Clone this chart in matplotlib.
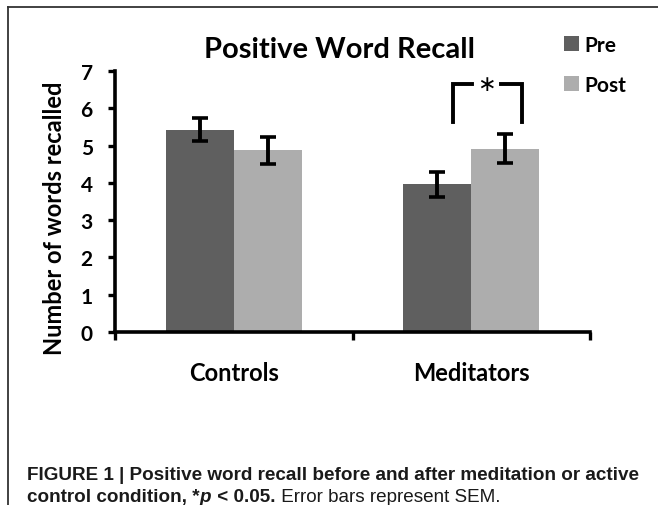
import matplotlib
matplotlib.use("Agg")
import matplotlib.pyplot as plt
from matplotlib.patches import Patch
from matplotlib.lines import Line2D
from matplotlib import font_manager
from matplotlib.font_manager import FontProperties
import numpy as np

groups = ["Controls", "Meditators"]
pre_mean = [5.42, 3.96]
post_mean = [4.87, 4.91]
pre_sem = [0.31, 0.34]
post_sem = [0.37, 0.39]
series_names = ["Pre", "Post"]
yticks = [0, 1, 2, 3, 4, 5, 6, 7]


def bold_weight(fam):
    # weight of the face matplotlib would pick for family + bold
    try:
        path = font_manager.findfont(FontProperties(family=fam, weight="bold"), fallback_to_default=False)
    except Exception:
        return 0
    for f in font_manager.fontManager.ttflist:
        if f.fname == path and f.name == fam:
            wt = f.weight
            if isinstance(wt, str):
                wt = font_manager.weight_dict.get(wt, 400)
            return wt
    return 0


main_font = "DejaVu Sans"
for cand in ["Lato", "Open Sans", "Roboto", "Noto Sans", "Liberation Sans"]:
    if bold_weight(cand) >= 700:
        main_font = cand
        break
cap_font = "Liberation Sans"

dark = "#5f5f5f"
light = "#adadad"

fig = plt.figure(figsize=(6.58, 5.06), dpi=100)
ax = fig.add_axes([115 / 658, 1 - 333 / 506, 475 / 658, 261 / 506])

x = np.arange(len(groups))
w = 0.286
err_kw = dict(ecolor="black", elinewidth=2.8, capsize=5.5, capthick=2.6)
ax.bar(x - w / 2, pre_mean, w, color=dark, yerr=pre_sem, error_kw=err_kw, zorder=2)
ax.bar(x + w / 2, post_mean, w, color=light, yerr=post_sem, error_kw=err_kw, zorder=2)

ax.set_xlim(-0.5, 1.5)
ax.set_ylim(0, 7)
ax.set_yticks(yticks)
ax.set_yticklabels([str(t) for t in yticks], fontfamily=main_font, fontweight="bold", fontsize=15)
ax.tick_params(axis="y", length=5, width=2.4, pad=11, direction="out")

ax.set_xticks([-0.5, 0.5, 1.5])
ax.set_xticklabels(["", "", ""])
ax.tick_params(axis="x", which="major", length=6, width=2.4, direction="out")
ax.set_xticks(x, minor=True)
ax.set_xticklabels(groups, minor=True, fontfamily=main_font, fontweight="bold", fontsize=17)
ax.tick_params(axis="x", which="minor", length=0, pad=21)

for s in ["top", "right"]:
    ax.spines[s].set_visible(False)
for s in ["left", "bottom"]:
    ax.spines[s].set_linewidth(2.6)
    ax.spines[s].set_capstyle("projecting")

# significance bracket
by_top, by_bot = 6.65, 5.63
ax.plot([0.923, 0.923, 1.003], [by_bot, by_top, by_top], color="black", lw=2.8, solid_joinstyle="miter")
ax.plot([1.125, 1.214, 1.214], [by_top, by_top, by_bot], color="black", lw=2.8, solid_joinstyle="miter")
ax.text(1.066, by_top, "\u2217", ha="center", va="center", fontsize=16,
        fontfamily="DejaVu Sans", clip_on=False)

# title and y label
fig.text(340 / 658, 1 - 50 / 506, "Positive Word Recall", ha="center", va="center",
         fontfamily=main_font, fontweight="bold", fontsize=21)
fig.text(55 / 658, 1 - 218 / 506, "Number of words recalled", ha="center", va="center",
         rotation=90, fontfamily=main_font, fontweight="bold", fontsize=17)

handles = [Patch(facecolor=dark, label=series_names[0]), Patch(facecolor=light, label=series_names[1])]
fig.legend(handles=handles, loc="upper left", bbox_to_anchor=(564 / 658, 1 - 36 / 506),
           frameon=False, handlelength=0.7, handleheight=0.7, handletextpad=0.3,
           labelspacing=0.95, borderaxespad=0, borderpad=0,
           prop={"family": main_font, "weight": "bold", "size": 15})

# outer frame
fig.add_artist(Line2D([8 / 658, 1], [1 - 8 / 506, 1 - 8 / 506], color="#333333", lw=1.3))
fig.add_artist(Line2D([8 / 658, 8 / 658], [0, 1 - 8 / 506], color="#333333", lw=1.3))

# caption
cap_col = "#1a1a1a"
cap_size = 13.6
fig.text(27 / 658, 1 - 480 / 506, "FIGURE 1 | Positive word recall before and after meditation or active",
         fontfamily=cap_font, fontweight="bold", fontsize=cap_size, color=cap_col, va="baseline")
renderer = fig.canvas.get_renderer()
pieces = [("control condition, *", "bold", "normal"),
          ("p", "bold", "italic"),
          (" < 0.05.", "bold", "normal"),
          (" Error bars represent SEM.", "normal", "normal")]
xpos = 27
for txt, wt, st in pieces:
    t = fig.text(xpos / 658, 1 - 502 / 506, txt, fontfamily=cap_font, fontweight=wt, fontstyle=st,
                 fontsize=cap_size, color=cap_col, va="baseline")
    bb = t.get_window_extent(renderer)
    xpos = bb.x1 + (1 if st == "italic" else 0)

fig.savefig("out.png", dpi=100)
